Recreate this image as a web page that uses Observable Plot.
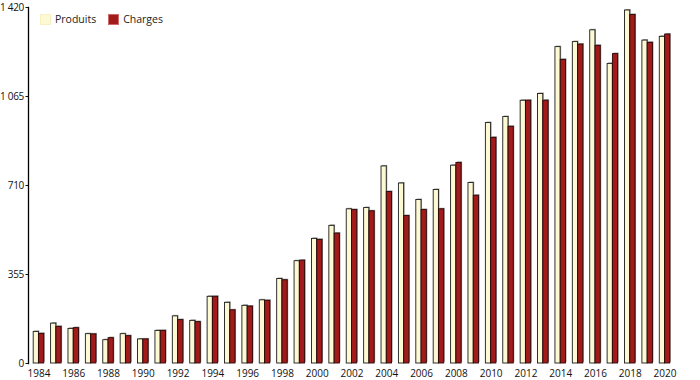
<!DOCTYPE html>
<html>
<head>
<meta charset="utf-8">
<script src="https://cdn.jsdelivr.net/npm/d3@7"></script>
<script src="https://cdn.jsdelivr.net/npm/@observablehq/plot@0.6"></script>
<style>
  html, body { margin: 0; padding: 0; background: #fff; }
  #wrap { position: relative; width: 700px; height: 380px; font-family: "Open Sans", sans-serif; }
  #legend { position: absolute; left: 40px; top: 12px; display: flex; align-items: center; font-size: 10.5px; color: #222; }
  #legend .sw { width: 9px; height: 9px; display: inline-block; margin-right: 4px; }
  #legend .item { display: flex; align-items: center; margin-right: 12px; }
  #chart svg { overflow: visible; }
  #chart svg g[aria-label="y-axis tick label"] text { letter-spacing: -0.3px; }
</style>
</head>
<body>
<div id="wrap">
  <div id="chart"></div>
  <div id="legend"></div>
</div>
<script>
const years = [1984,1985,1986,1987,1988,1989,1990,1991,1992,1993,1994,1995,1996,1997,1998,1999,2000,2001,2002,2003,2004,2005,2006,2007,2008,2009,2010,2011,2012,2013,2014,2015,2016,2017,2018,2019,2020];
const produits = [126,159,138,117,93,117,96,130,188,170,266,242,230,252,337,408,497,549,615,620,786,718,652,692,789,720,959,983,1048,1075,1262,1282,1329,1195,1408,1288,1303];
const charges = [118,146,141,116,101,109,96,130,173,165,266,212,227,250,332,410,493,518,612,607,684,588,612,615,800,669,900,944,1048,1048,1211,1272,1267,1234,1390,1279,1312];
const seriesNames = ["Produits", "Charges"];
const seriesColors = ["#fdf9d3", "#a31a1a"];
const yTicks = [0, 355, 710, 1065, 1420];
const yTickLabels = ["0", "355", "710", "1 065", "1 420"];
const xTickYears = years.filter(y => y % 2 === 0);

const data = years.map((year, i) => ({year, produits: produits[i], charges: charges[i]}));

const half = 5.3;
const chart = Plot.plot({
  width: 700,
  height: 380,
  marginTop: 7,
  marginBottom: 17,
  marginLeft: 28,
  marginRight: 26,
  style: {fontFamily: "'Open Sans', sans-serif", fontSize: "10px", color: "#111", background: "#fff", overflow: "visible"},
  x: {type: "band", domain: years, range: [28.5, 674.5], paddingInner: 0.395, paddingOuter: 0.27, round: false},
  y: {domain: [0, 1420]},
  marks: [
    Plot.barY(data, {x: "year", y: "produits", fill: "#9c9c9c", insetRight: half, dx: 1, dy: -1}),
    Plot.barY(data, {x: "year", y: "charges", fill: "#8a8a8a", insetLeft: half, dx: 1, dy: -1}),
    Plot.barY(data, {x: "year", y: "produits", fill: seriesColors[0], stroke: "#1c1c1c", strokeWidth: 0.9, insetRight: half}),
    Plot.barY(data, {x: "year", y: "charges", fill: seriesColors[1], stroke: "#2a0808", strokeWidth: 0.9, insetLeft: half}),
    Plot.frame({anchor: "left", stroke: "#000", strokeWidth: 1.3}),
    Plot.axisY({ticks: yTicks, tickFormat: d => yTickLabels[yTicks.indexOf(d)], tickSize: 2.5, tickPadding: 2, label: null, fontSize: 10}),
    Plot.axisX({ticks: xTickYears, tickFormat: d => String(d), tickSize: 0, tickPadding: 6.5, label: null, fontSize: 10})
  ]
});
document.getElementById("chart").appendChild(chart);

const legend = document.getElementById("legend");
seriesNames.forEach((name, i) => {
  const item = document.createElement("span");
  item.className = "item";
  const sw = document.createElement("span");
  sw.className = "sw";
  sw.style.background = seriesColors[i];
  sw.style.border = i === 0 ? "1px solid #f6f0c4" : "1px solid #d06a6a";
  item.appendChild(sw);
  item.appendChild(document.createTextNode(name));
  legend.appendChild(item);
});
</script>
</body>
</html>
